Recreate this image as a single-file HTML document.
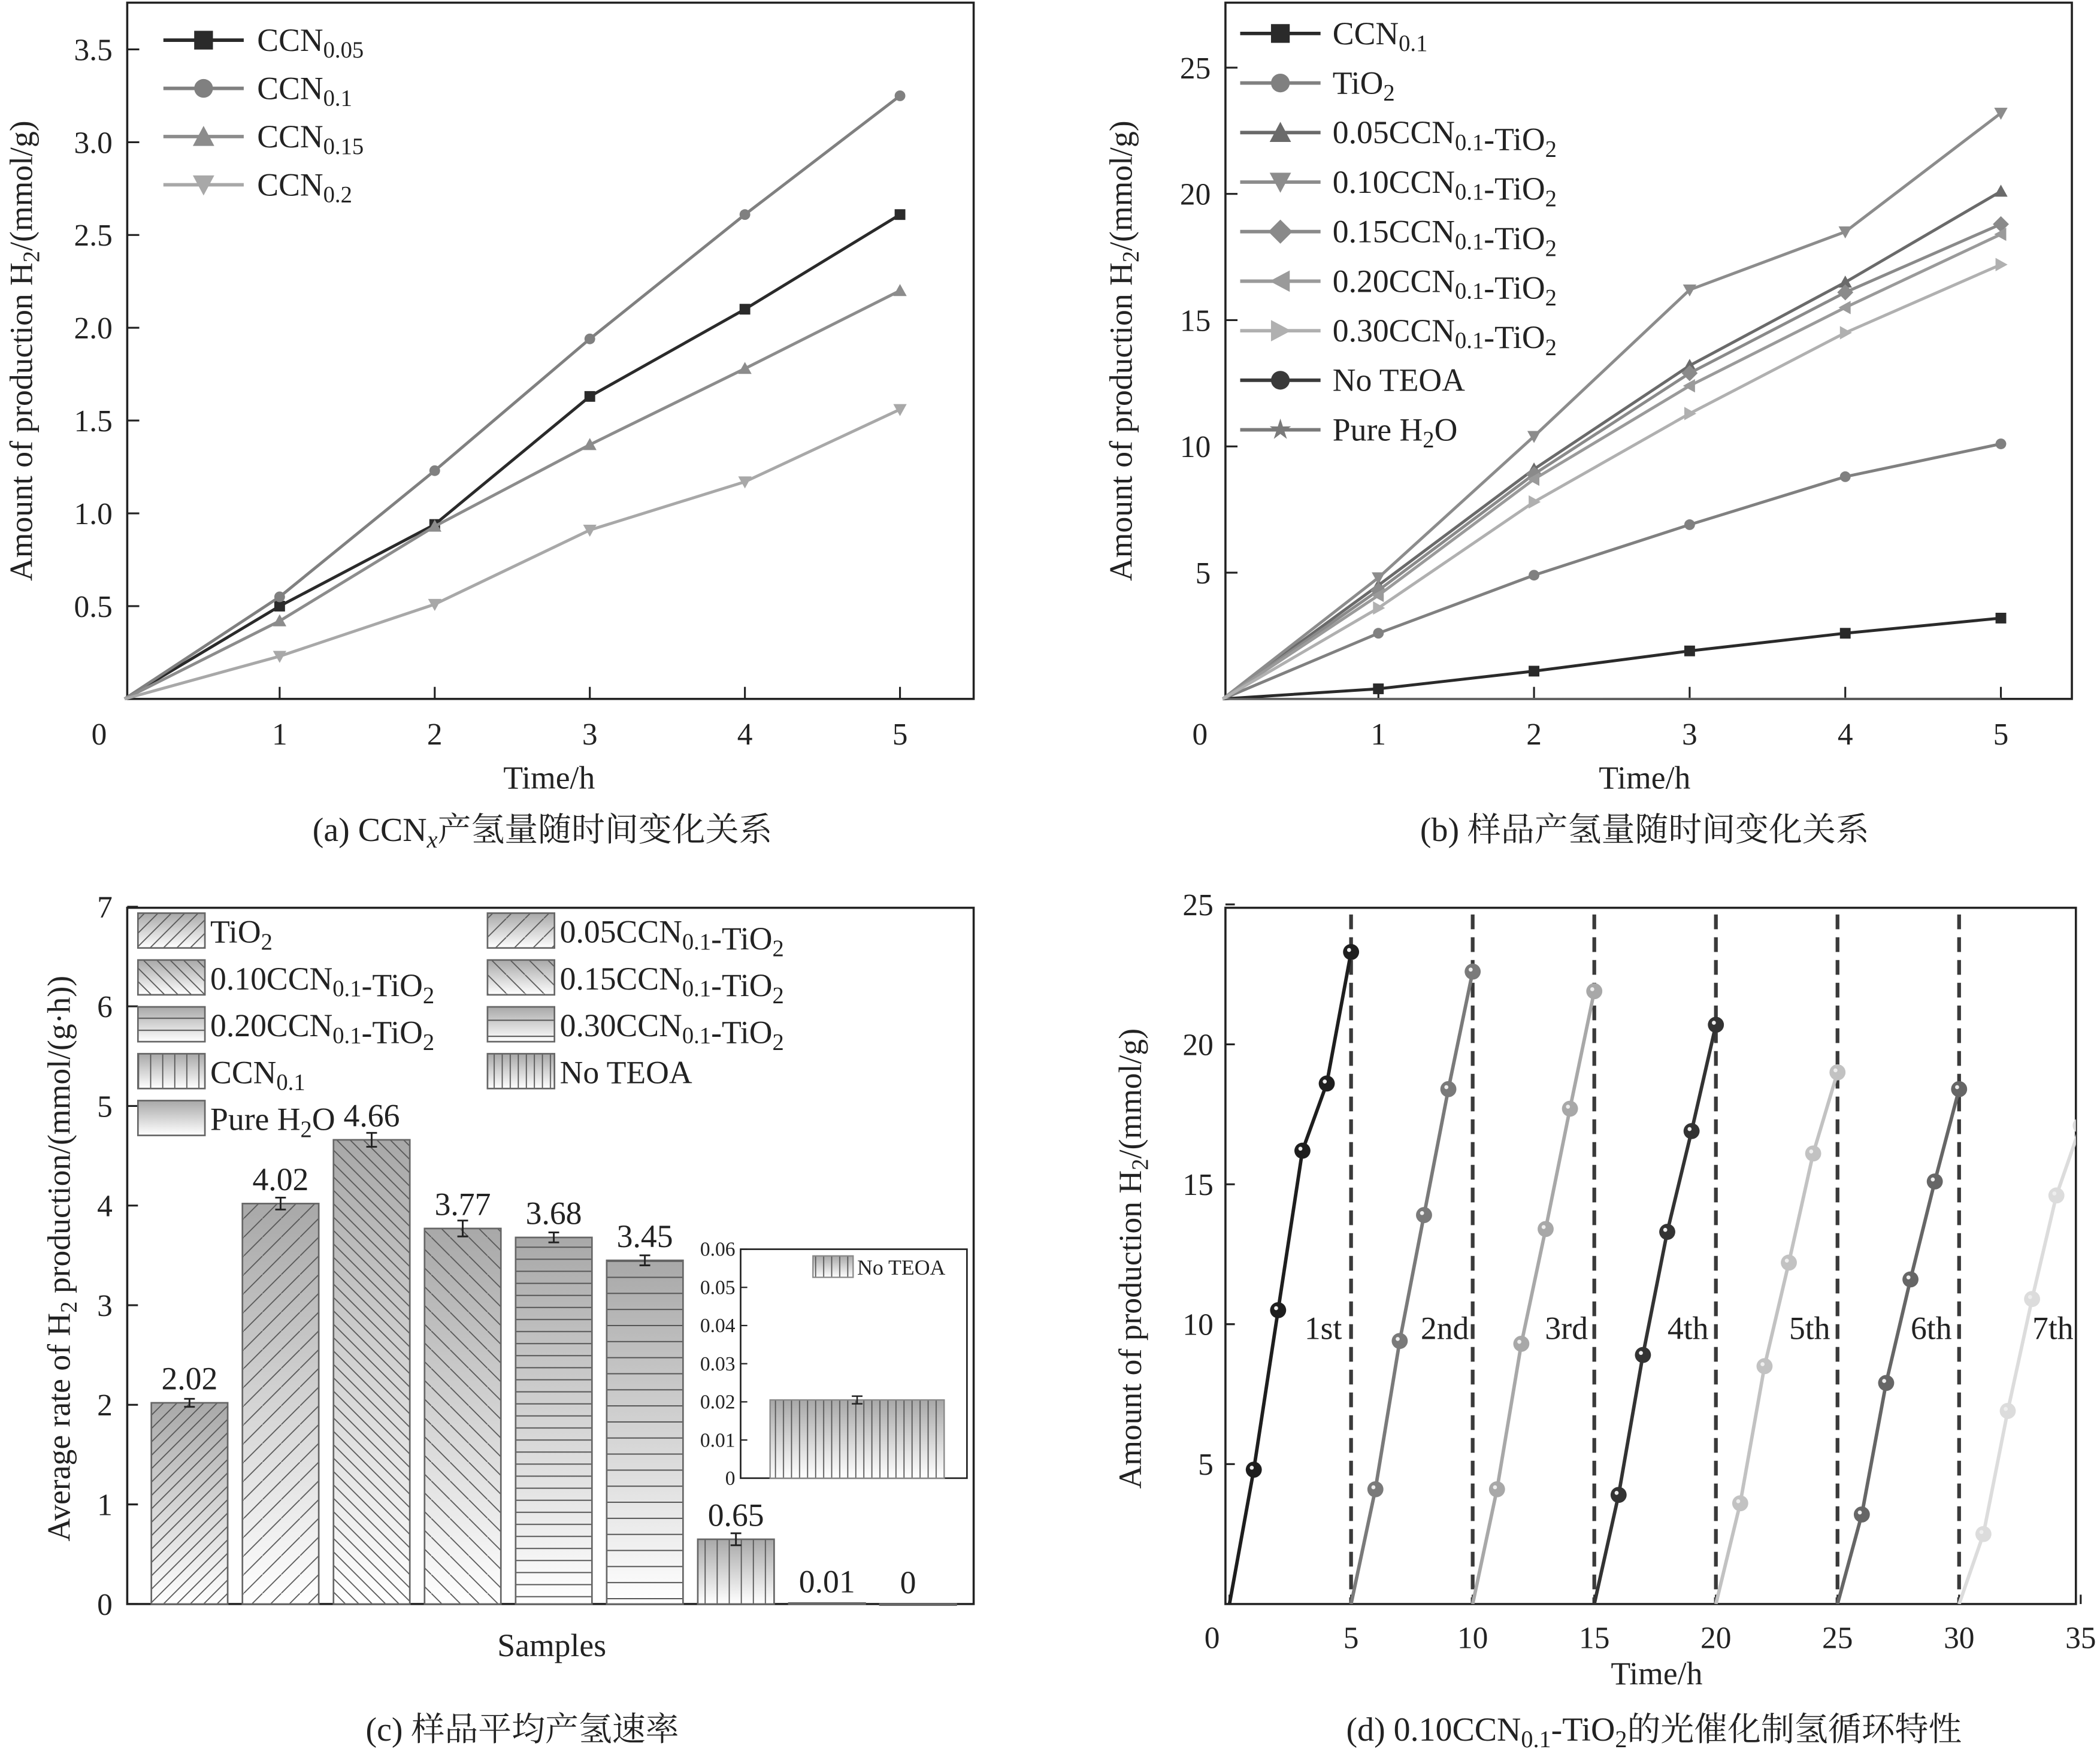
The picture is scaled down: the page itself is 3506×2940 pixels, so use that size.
<!DOCTYPE html>
<html><head><meta charset="utf-8"><style>
html,body{margin:0;padding:0;background:#fff;}
svg, svg text{font-family:"Liberation Serif","Noto Serif CJK SC","Noto Sans CJK SC",serif;}
</style></head><body>
<svg id="fig" width="3506" height="2935" viewBox="0 0 1568 1313" preserveAspectRatio="none" xmlns="http://www.w3.org/2000/svg" font-family="Liberation Serif, Noto Serif CJK SC, serif">
<defs>
<linearGradient id="gbar" x1="0" y1="0" x2="0" y2="1"><stop offset="0" stop-color="#a8a8a8"/><stop offset="1" stop-color="#ffffff"/></linearGradient>
<pattern id="p-d1" width="10" height="10" patternUnits="userSpaceOnUse"><path d="M-2,12 L12,-2 M-2,2 L2,-2 M8,12 L12,8" stroke="#555" stroke-width="0.8"/></pattern>
<pattern id="p-d2" width="14" height="14" patternUnits="userSpaceOnUse"><path d="M-2,16 L16,-2" stroke="#555" stroke-width="0.8"/></pattern>
<pattern id="p-b1" width="10" height="10" patternUnits="userSpaceOnUse"><path d="M-2,-2 L12,12 M8,-2 L12,2 M-2,8 L2,12" stroke="#555" stroke-width="0.8"/></pattern>
<pattern id="p-b2" width="14" height="14" patternUnits="userSpaceOnUse"><path d="M-2,-2 L16,16" stroke="#555" stroke-width="0.8"/></pattern>
<pattern id="p-h1" width="10" height="9" patternUnits="userSpaceOnUse"><path d="M0,4.5 H10" stroke="#555" stroke-width="0.9"/></pattern>
<pattern id="p-h2" width="10" height="12" patternUnits="userSpaceOnUse"><path d="M0,6 H10" stroke="#555" stroke-width="0.9"/></pattern>
<pattern id="p-v1" width="9" height="10" patternUnits="userSpaceOnUse"><path d="M4.5,0 V10" stroke="#555" stroke-width="0.8"/></pattern>
<pattern id="p-v2" width="6" height="10" patternUnits="userSpaceOnUse"><path d="M3,0 V10" stroke="#555" stroke-width="0.8"/></pattern>
<pattern id="p-none" width="10" height="10" patternUnits="userSpaceOnUse"></pattern>
</defs>
<g id="pa"></g>
<g id="pb"></g>
<g id="pc"></g>
<g id="pd"></g>
</svg>
<script>
// ---------- Panel (a) data ----------
const aTimes=[0,1,2,3,4,5];
const aNames=["CCN0.05","CCN0.1","CCN0.15","CCN0.2"];
const aS005=[0,0.50,0.94,1.63,2.10,2.61];
const aS01=[0,0.55,1.23,1.94,2.61,3.25];
const aS015=[0,0.42,0.93,1.37,1.78,2.20];
const aS02=[0,0.23,0.51,0.91,1.17,1.56];
const aYTicks=[0.5,1.0,1.5,2.0,2.5,3.0,3.5];
const aXTicks=[1,2,3,4,5];
// ---------- Panel (b) data ----------
const bTimes=[0,1,2,3,4,5];
const bCCN=[0,0.4,1.1,1.9,2.6,3.2];
const bTiO2=[0,2.6,4.9,6.9,8.8,10.1];
const b005=[0,4.5,9.1,13.2,16.5,20.1];
const b010=[0,4.8,10.4,16.2,18.5,23.2];
const b015=[0,4.3,8.9,12.9,16.1,18.8];
const b020=[0,4.1,8.7,12.4,15.5,18.4];
const b030=[0,3.6,7.8,11.3,14.5,17.2];
const bNoTEOA=[0,0.01,0.02,0.03,0.04,0.05];
const bPure=[0,0,0,0,0,0];
const bYTicks=[5,10,15,20,25];
const bXTicks=[1,2,3,4,5];
// ---------- Panel (c) data ----------
const cCats=["TiO2","0.05CCN0.1-TiO2","0.10CCN0.1-TiO2","0.15CCN0.1-TiO2","0.20CCN0.1-TiO2","0.30CCN0.1-TiO2","CCN0.1","No TEOA","Pure H2O"];
const cVals=[2.02,4.02,4.66,3.77,3.68,3.45,0.65,0.01,0];
const cErr=[0.04,0.06,0.07,0.08,0.05,0.05,0.06,0,0];
const cLabels=["2.02","4.02","4.66","3.77","3.68","3.45","0.65","0.01","0"];
const cYTicks=[0,1,2,3,4,5,6,7];
const cInsetVal=[0.0205];
const cInsetErr=[0.001];
const cInsetTicks=[0,0.01,0.02,0.03,0.04,0.05,0.06];
// ---------- Panel (d) data ----------
const dCycleNames=["1st","2nd","3rd","4th","5th","6th","7th"];
const dC1=[0,4.8,10.5,16.2,18.6,23.3];
const dC2=[0,4.1,9.4,13.9,18.4,22.6];
const dC3=[0,4.1,9.3,13.4,17.7,21.9];
const dC4=[0,3.9,8.9,13.3,16.9,20.7];
const dC5=[0,3.6,8.5,12.2,16.1,19.0];
const dC6=[0,3.2,7.9,11.6,15.1,18.4];
const dC7=[0,2.5,6.9,10.9,14.6,17.1];
const dXTicks=[0,5,10,15,20,25,30,35];
const dYTicks=[5,10,15,20,25];

const NS="http://www.w3.org/2000/svg";
function el(parent,tag,attrs,text){const e=document.createElementNS(NS,tag);for(const k in attrs)e.setAttribute(k,attrs[k]);if(text!==undefined)e.textContent=text;parent.appendChild(e);return e;}
function txt(parent,x,y,html,size,anchor,name,extra){const t=el(parent,'text',Object.assign({x:x,y:y,'font-size':size,'text-anchor':anchor||'middle',fill:'#222','font-family':'Liberation Serif, Noto Serif CJK SC, Noto Sans CJK SC, serif'},extra||{}));t.innerHTML=html;


return t;}
function sub(s,dy){return '<tspan dy="'+(dy||5)+'" font-size="0.72em">'+s+'</tspan><tspan dy="-'+(dy||5)+'">';}
function fmtName(n){
  return n.replace(/CCN(0\.\d+)/,function(m,a){return 'CCN<tspan dy="5" font-size="0.72em">'+a+'</tspan><tspan dy="-5"></tspan>';})
   .replace(/TiO2/,'TiO<tspan dy="5" font-size="0.72em">2</tspan><tspan dy="-5"></tspan>')
   .replace(/H2O/,'H<tspan dy="5" font-size="0.72em">2</tspan><tspan dy="-5">O</tspan>');}
function marker(g,type,x,y,col,s){s=s||6;let m;
  if(type==='sq')m=el(g,'rect',{x:x-s,y:y-s,width:2*s,height:2*s,fill:col});
  else if(type==='ci')m=el(g,'circle',{cx:x,cy:y,r:s,fill:col});
  else if(type==='tu')m=el(g,'polygon',{points:`${x},${y-s-1} ${x-s-1},${y+s} ${x+s+1},${y+s}`,fill:col});
  else if(type==='td')m=el(g,'polygon',{points:`${x},${y+s+1} ${x-s-1},${y-s} ${x+s+1},${y-s}`,fill:col});
  else if(type==='di')m=el(g,'polygon',{points:`${x},${y-s-2} ${x+s+2},${y} ${x},${y+s+2} ${x-s-2},${y}`,fill:col});
  else if(type==='tl')m=el(g,'polygon',{points:`${x-s-1},${y} ${x+s},${y-s-1} ${x+s},${y+s+1}`,fill:col});
  else if(type==='tr')m=el(g,'polygon',{points:`${x+s+1},${y} ${x-s},${y-s-1} ${x-s},${y+s+1}`,fill:col});
  else if(type==='st'){let p=[];for(let i=0;i<10;i++){const r=i%2?s*0.45:s*1.2;const a=-Math.PI/2+i*Math.PI/5;p.push((x+r*Math.cos(a)).toFixed(1)+','+(y+r*Math.sin(a)).toFixed(1));}m=el(g,'polygon',{points:p.join(' '),fill:col});}
  return m;}
function frame(g,x0,y0,x1,y1,name){const r=el(g,'rect',{x:x0,y:y0,width:x1-x0,height:y1-y0,fill:'none',stroke:'#222','stroke-width':1.6});

}

// ================= Panel A =================
(function(){
 const g=document.getElementById('pa');
 const X0=95,X1=727,Y0=2,Y1=522;
 const xs=t=>93+115.8*t, ys=v=>522-v*138.6;
 frame(g,X0,Y0,X1,Y1,'plot-frame-a');
 aXTicks.forEach(t=>{el(g,'line',{x1:xs(t),y1:Y1,x2:xs(t),y2:Y1-9,stroke:'#222','stroke-width':1.4});txt(g,xs(t),556,t,23,'middle','x-tick-label');});
 txt(g,74,556,'0',23,'middle','origin-label');
 aYTicks.forEach(v=>{el(g,'line',{x1:X0,y1:ys(v),x2:X0+9,y2:ys(v),stroke:'#222','stroke-width':1.4});txt(g,84,ys(v)+8,v.toFixed(1),23,'end','y-tick-label');});
 const series=[[aS005,'#2a2a2a','sq'],[aS01,'#808080','ci'],[aS015,'#8c8c8c','tu'],[aS02,'#a8a8a8','td']];
 series.forEach((s,i)=>{const sg=el(g,'g',{});
  
  
  el(sg,'polyline',{points:aTimes.map((t,j)=>xs(t)+','+ys(s[0][j])).join(' '),fill:'none',stroke:s[1],'stroke-width':2.2});
  aTimes.forEach((t,j)=>{if(j>0)marker(sg,s[2],xs(t),ys(s[0][j]),s[1],4);});
  const ly=30+i*36;const lg=el(g,'g',{});
  
  
  el(lg,'line',{x1:122,y1:ly,x2:182,y2:ly,stroke:s[1],'stroke-width':2.6});
  marker(lg,s[2],152,ly,s[1],7);
  txt(lg,192,ly+8,fmtName(aNames[i]),24,'start','legend-label');
 });
 txt(g,410,589,'Time/h',24,'middle','x-axis-title');
 txt(g,24,262,'Amount of production H'+sub('2')+'/(mmol/g)</tspan>',24,'middle','y-axis-title',{transform:'rotate(-90 24 262)'});
 txt(g,405,628,'(a) CCN<tspan font-style="italic" dy="5" font-size="0.72em">x</tspan><tspan dy="-5">产氢量随时间变化关系</tspan>',25,'middle','caption-a');
})();

// ================= Panel B =================
(function(){
 const g=document.getElementById('pb');
 const X0=915,X1=1547,Y0=2,Y1=522;
 const xs=t=>913+116.2*t, ys=v=>522-v*18.86;
 frame(g,X0,Y0,X1,Y1,'plot-frame-b');
 bXTicks.forEach(t=>{el(g,'line',{x1:xs(t),y1:Y1,x2:xs(t),y2:Y1-9,stroke:'#222','stroke-width':1.4});txt(g,xs(t),556,t,23,'middle','x-tick-label');});
 txt(g,896,556,'0',23,'middle','origin-label');
 bYTicks.forEach(v=>{el(g,'line',{x1:X0,y1:ys(v),x2:X0+9,y2:ys(v),stroke:'#222','stroke-width':1.4});txt(g,904,ys(v)+8,v,23,'end','y-tick-label');});
 const names=["CCN0.1","TiO2","0.05CCN0.1-TiO2","0.10CCN0.1-TiO2","0.15CCN0.1-TiO2","0.20CCN0.1-TiO2","0.30CCN0.1-TiO2","No TEOA","Pure H2O"];
 const series=[[bCCN,'#2a2a2a','sq'],[bTiO2,'#808080','ci'],[b005,'#6a6a6a','tu'],[b010,'#8c8c8c','td'],[b015,'#8a8a8a','di'],[b020,'#9a9a9a','tl'],[b030,'#b0b0b0','tr'],[bNoTEOA,'#3a3a3a','ci'],[bPure,'#7a7a7a','st']];
 series.forEach((s,i)=>{const sg=el(g,'g',{});
  
  
  const near0=i>=7;
  el(sg,'polyline',{points:bTimes.map((t,j)=>xs(t)+','+ys(s[0][j])).join(' '),fill:'none',stroke:near0?'#bbb':s[1],'stroke-width':near0?1:2.2,opacity:near0?0.3:1});
  if(!near0)bTimes.forEach((t,j)=>{if(j>0)marker(sg,s[2],xs(t),ys(s[0][j]),s[1],4);});
 });
 series.forEach((s,i)=>{const ly=25+i*37;const lg=el(g,'g',{});
  
  
  el(lg,'line',{x1:926,y1:ly,x2:986,y2:ly,stroke:s[1],'stroke-width':2.6});
  marker(lg,s[2],956,ly,s[1],7);
  txt(lg,995,ly+8,fmtName(names[i]),24,'start','legend-label');
 });
 txt(g,1228,589,'Time/h',24,'middle','x-axis-title');
 txt(g,845,262,'Amount of production H'+sub('2')+'/(mmol/g)</tspan>',24,'middle','y-axis-title',{transform:'rotate(-90 845 262)'});
 txt(g,1228,628,'(b) 样品产氢量随时间变化关系',25,'middle','caption-b');
})();

// ================= Panel C =================
(function(){
 const g=document.getElementById('pc');
 const X0=95,X1=727,Y0=678,Y1=1198;
 const ys=v=>1198-v*74.4;
 const pats=['p-d1','p-d2','p-b1','p-b2','p-h1','p-h2','p-v1','p-v2','p-none'];
 frame(g,X0,Y0,X1,Y1,'plot-frame-c');
 cYTicks.forEach(v=>{el(g,'line',{x1:X0,y1:ys(v),x2:X0+8,y2:ys(v),stroke:'#222','stroke-width':1.4});txt(g,84,ys(v)+8,v,23,'end','y-tick-label');});
 cVals.forEach((v,i)=>{const bx=113+i*68, bw=57;const bg=el(g,'g',{});
  
  
  const h=Math.max(v*74.4,0.8);
  el(bg,'rect',{x:bx,y:ys(v),width:bw,height:h,fill:'url(#gbar)'});
  el(bg,'rect',{x:bx,y:ys(v),width:bw,height:h,fill:'url(#'+pats[i]+')',stroke:'#666','stroke-width':1.2});
  if(cErr[i]>0){const cx=bx+bw/2;const e1=ys(v+cErr[i]),e2=ys(v-cErr[i]);
   el(bg,'path',{d:`M${cx},${e1} V${e2} M${cx-4},${e1} H${cx+4} M${cx-4},${e2} H${cx+4}`,stroke:'#222','stroke-width':1.3,fill:'none'});}
  txt(bg,i===8?678:bx+bw/2,ys(v)-(i>=7?8:10),cLabels[i],24,'middle','bar-value-label');
 });
 cCats.forEach((c,i)=>{const col=i%2,row=Math.floor(i/2);const lx=col?364:103,ly=682+row*35;const lg=el(g,'g',{});
  
  
  el(lg,'rect',{x:lx,y:ly,width:50,height:26,fill:'url(#gbar)'});
  el(lg,'rect',{x:lx,y:ly,width:50,height:26,fill:'url(#'+pats[i]+')',stroke:'#666','stroke-width':1.2});
  txt(lg,lx+54,ly+22,fmtName(c),24,'start','legend-label');
 });
 const ig=el(g,'g',{});
 
 
 const iy=v=>1104-v*2850;
 el(ig,'rect',{x:553,y:933,width:169,height:171,fill:'#fff',stroke:'#222','stroke-width':1.2});
 cInsetTicks.forEach(v=>{el(ig,'line',{x1:553,y1:iy(v),x2:558,y2:iy(v),stroke:'#222','stroke-width':1});txt(ig,549,iy(v)+5,v===0?'0':v.toFixed(2),15,'end','inset-tick-label');});
 el(ig,'rect',{x:575,y:iy(cInsetVal[0]),width:130,height:cInsetVal[0]*2850,fill:'url(#gbar)'});
 el(ig,'rect',{x:575,y:iy(cInsetVal[0]),width:130,height:cInsetVal[0]*2850,fill:'url(#p-v2)',stroke:'#888','stroke-width':1});
 const e1=iy(cInsetVal[0]+cInsetErr[0]),e2=iy(cInsetVal[0]-cInsetErr[0]);
 el(ig,'path',{d:`M640,${e1} V${e2} M636,${e1} H644 M636,${e2} H644`,stroke:'#222','stroke-width':1.1,fill:'none'});
 el(ig,'rect',{x:607,y:938,width:30,height:16,fill:'url(#gbar)'});
 el(ig,'rect',{x:607,y:938,width:30,height:16,fill:'url(#p-v2)',stroke:'#888','stroke-width':1});
 txt(ig,640,952,'No TEOA',16,'start','inset-legend-label');
 txt(g,412,1237,'Samples',24,'middle','x-axis-title');
 txt(g,52,940,'Average rate of H'+sub('2')+' production/(mmol/(g·h))</tspan>',24,'middle','y-axis-title',{transform:'rotate(-90 52 940)'});
 txt(g,390,1300,'(c) 样品平均产氢速率',25,'middle','caption-c');
})();

// ================= Panel D =================
(function(){
 const g=document.getElementById('pd');
 const X0=915,X1=1550,Y0=678,Y1=1198;
 const xs=t=>918+18.16*t, ys=v=>1198-v*20.9;
 frame(g,X0,Y0,X1,Y1,'plot-frame-d');
 const cp=el(document.querySelector('defs'),'clipPath',{id:'clipd'});el(cp,'rect',{x:X0,y:Y0,width:X1-X0,height:Y1-Y0});
 dXTicks.forEach(t=>{el(g,'line',{x1:xs(t),y1:Y1,x2:xs(t),y2:Y1-7,stroke:'#222','stroke-width':1.4});txt(g,t===0?905:xs(t),1231,t,23,'middle','x-tick-label');});
 dYTicks.forEach(v=>{el(g,'line',{x1:X0,y1:ys(v),x2:X0+7,y2:ys(v),stroke:'#222','stroke-width':1.4});txt(g,906,ys(v)+8,v,23,'end','y-tick-label');});
 [5,10,15,20,25,30].forEach(t=>{const l=el(g,'line',{x1:xs(t),y1:Y0+5,x2:xs(t),y2:Y1,stroke:'#3a3a3a','stroke-width':2.8,'stroke-dasharray':'11,6'});
  
  });
 const cycles=[dC1,dC2,dC3,dC4,dC5,dC6,dC7];
 const cols=['#1e1e1e','#7a7a7a','#a8a8a8','#333','#c2c2c2','#666','#dcdcdc'];
 const cg=el(g,'g',{'clip-path':'url(#clipd)'});
 cycles.forEach((c,i)=>{const sg=el(cg,'g',{});
  
  
  el(sg,'polyline',{points:c.map((v,j)=>xs(i*5+j)+','+ys(v)).join(' '),fill:'none',stroke:cols[i],'stroke-width':2.6});
  c.forEach((v,j)=>{if(j>0){el(sg,'circle',{cx:xs(i*5+j),cy:ys(v),r:6,fill:cols[i]});el(sg,'circle',{cx:xs(i*5+j)-1.5,cy:ys(v)-1.5,r:1.5,fill:'#eee'});}});
 });
 dCycleNames.forEach((n,i)=>txt(g,xs(i*5)+70,1000,n,24,'middle','cycle-label'));
 txt(g,1237,1258,'Time/h',24,'middle','x-axis-title');
 txt(g,852,940,'Amount of production H'+sub('2')+'/(mmol/g)</tspan>',24,'middle','y-axis-title',{transform:'rotate(-90 852 940)'});
 txt(g,1235,1300,'(d) 0.10CCN'+sub('0.1')+'-TiO</tspan><tspan dy="5" font-size="0.72em">2</tspan><tspan dy="-5">的光催化制氢循环特性</tspan>',25,'middle','caption-d');
})();
</script>
</body></html>
